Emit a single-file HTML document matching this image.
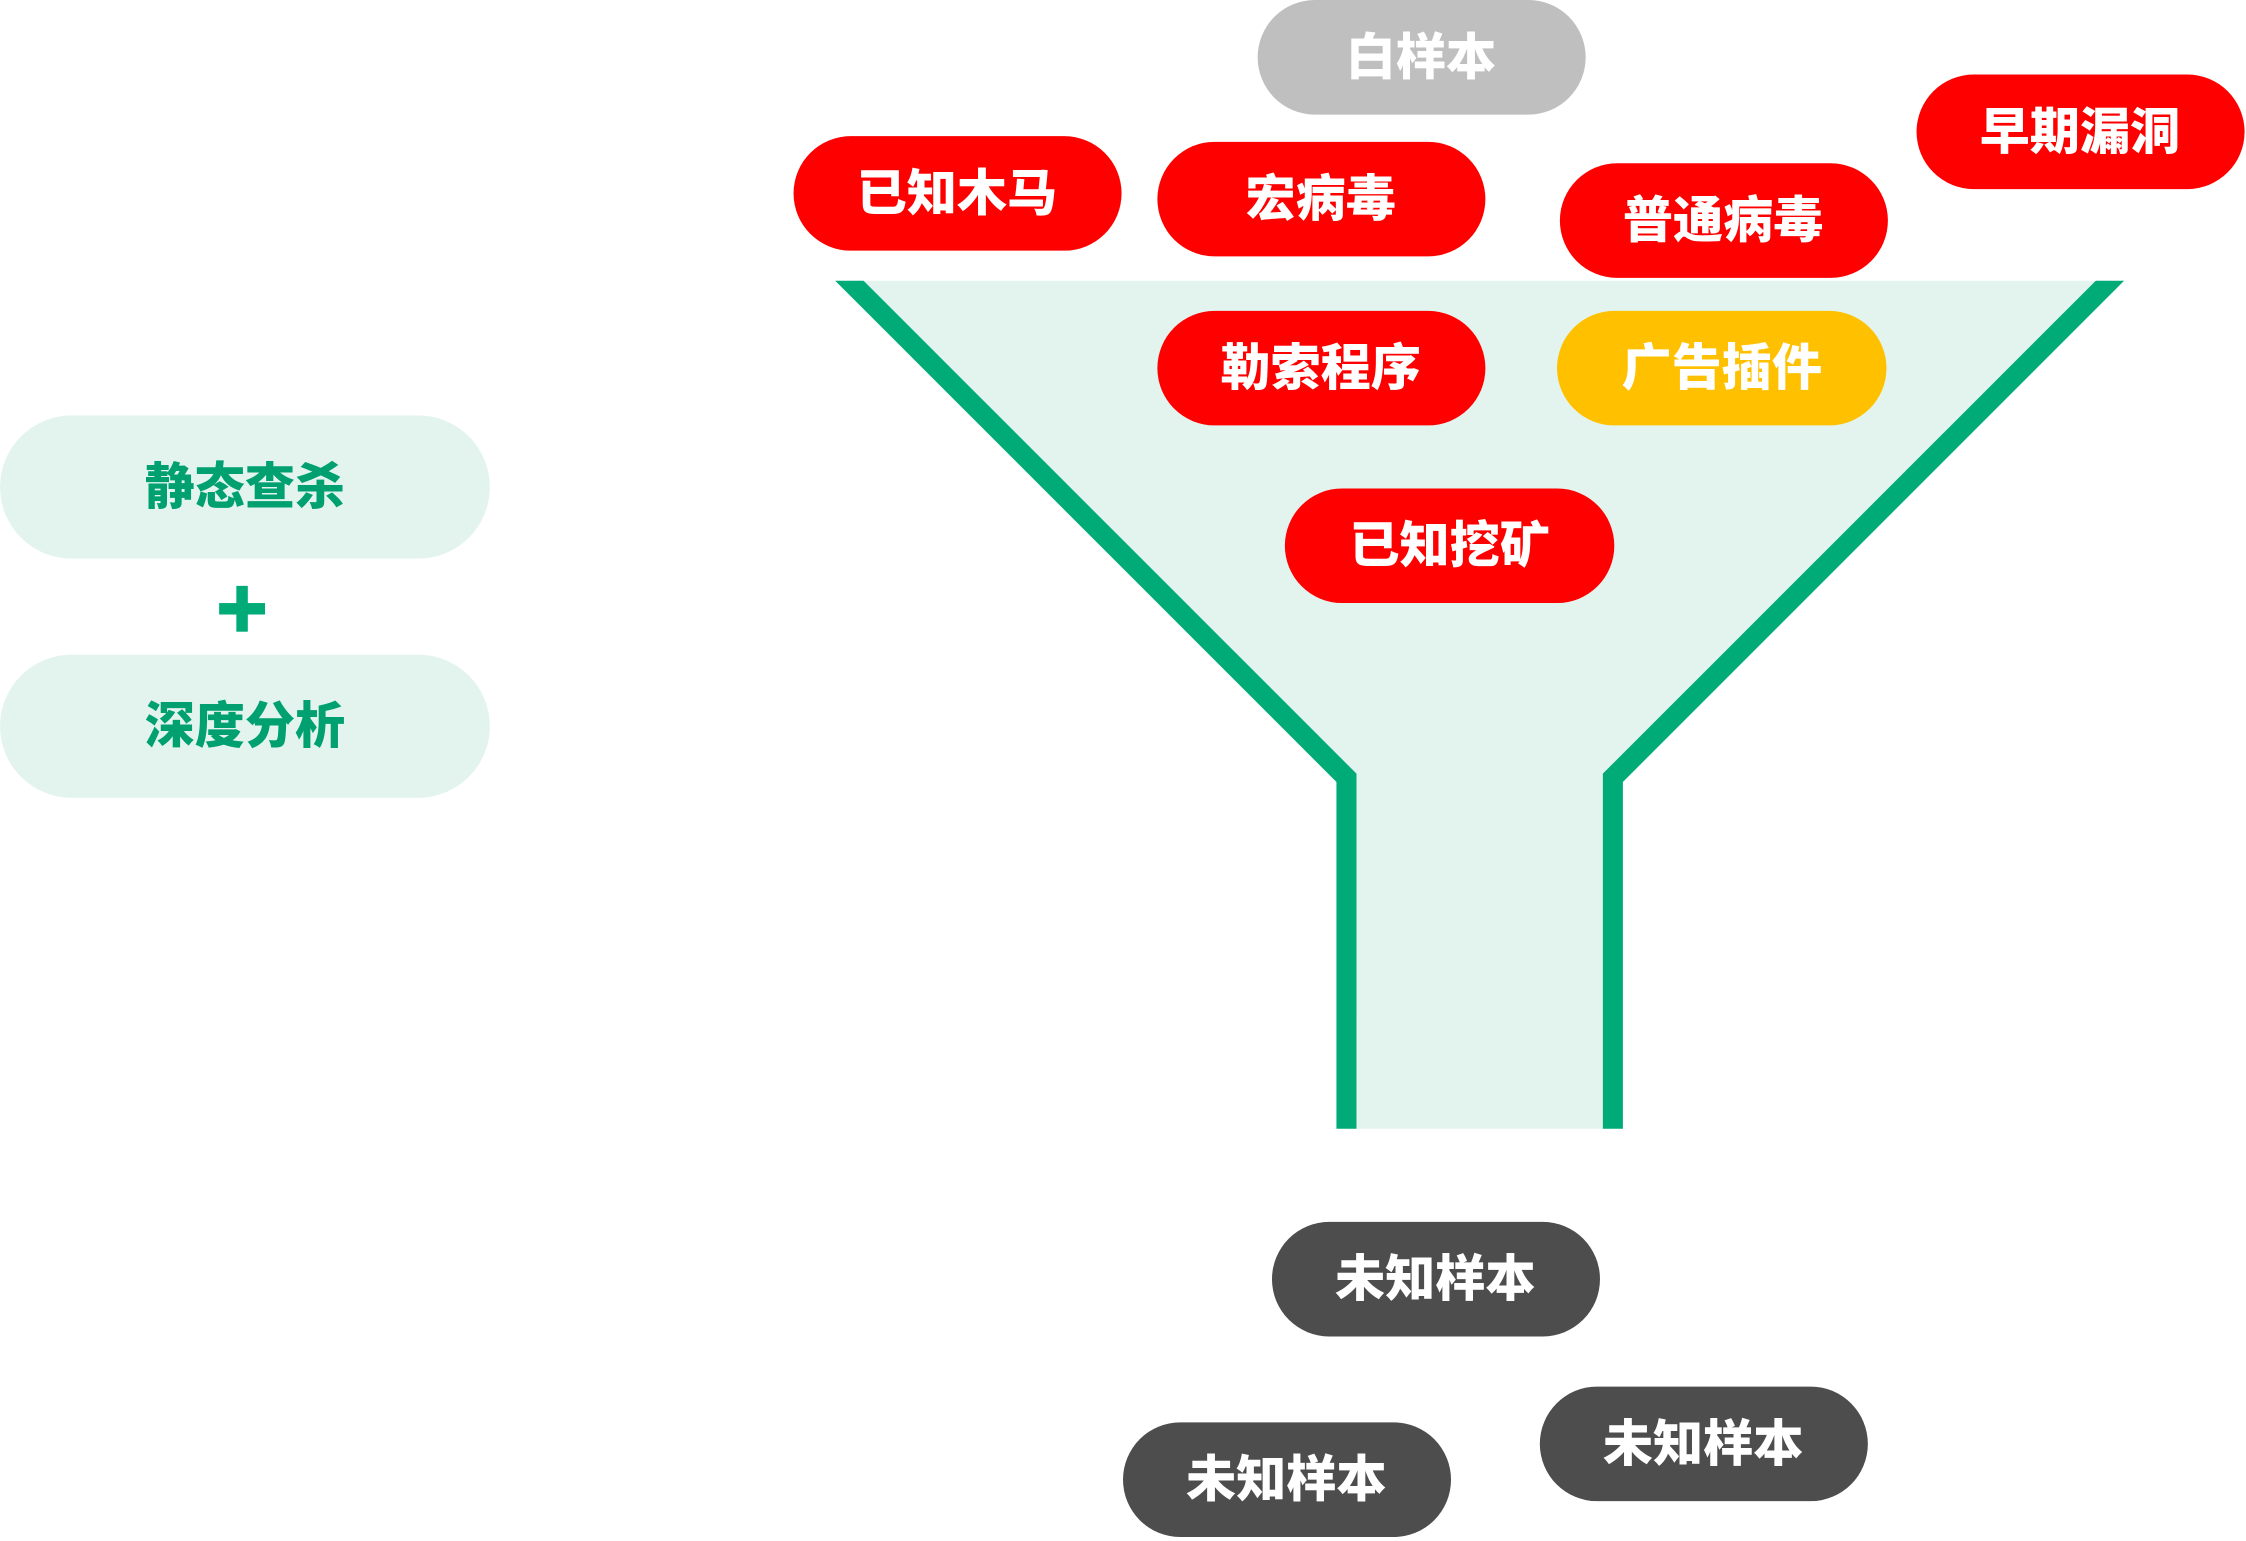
<!DOCTYPE html>
<html><head><meta charset="utf-8"><style>
html,body{margin:0;padding:0;background:#fff;}
svg{display:block;}
text{font-family:"Liberation Sans","Noto Sans CJK SC",sans-serif;font-weight:900;text-anchor:middle;dominant-baseline:central;}
</style></head><body>
<svg width="2246" height="1541" viewBox="0 0 1568 1075.8" xmlns="http://www.w3.org/2000/svg">
<defs><clipPath id="c"><rect x="0" y="196" width="1568" height="592"/></clipPath></defs>
<polygon points="593,196 1473,196 1126,543 1126,788 940,788 940,543" fill="#e3f4ee"/>
<g clip-path="url(#c)" fill="none" stroke="#00ab78" stroke-width="14" stroke-linejoin="miter">
<polyline points="583,186 940,543 940,800"/>
<polyline points="1483,186 1126,543 1126,800"/>
</g>
<g font-size="35">
<rect x="878" y="0" width="229" height="80" rx="40" fill="#bfbfbf"/><text x="992" y="40" fill="#fff">白样本</text>
<rect x="554" y="95" width="229" height="80" rx="40" fill="#ff0000"/><text x="668" y="135" fill="#fff">已知木马</text>
<rect x="808" y="99" width="229" height="80" rx="40" fill="#ff0000"/><text x="922" y="139" fill="#fff">宏病毒</text>
<rect x="1089" y="114" width="229" height="80" rx="40" fill="#ff0000"/><text x="1203" y="154" fill="#fff">普通病毒</text>
<rect x="1338" y="52" width="229" height="80" rx="40" fill="#ff0000"/><text x="1452" y="92" fill="#fff">早期漏洞</text>
<rect x="808" y="217" width="229" height="80" rx="40" fill="#ff0000"/><text x="922" y="257" fill="#fff">勒索程序</text>
<rect x="1087" y="217" width="230" height="80" rx="40" fill="#ffc000"/><text x="1202" y="257" fill="#fff">广告插件</text>
<rect x="897" y="341" width="230" height="80" rx="40" fill="#ff0000"/><text x="1012" y="381" fill="#fff">已知挖矿</text>
<rect x="888" y="853" width="229" height="80" rx="40" fill="#4d4d4d"/><text x="1002" y="893" fill="#fff">未知样本</text>
<rect x="784" y="993" width="229" height="80" rx="40" fill="#4d4d4d"/><text x="898" y="1033" fill="#fff">未知样本</text>
<rect x="1075" y="968" width="229" height="80" rx="40" fill="#4d4d4d"/><text x="1189" y="1008" fill="#fff">未知样本</text>
<rect x="0" y="290" width="342" height="100" rx="50" fill="#e3f4ee"/><text x="171" y="340" fill="#00a070">静态查杀</text>
<rect x="0" y="457" width="342" height="100" rx="50" fill="#e3f4ee"/><text x="171" y="507" fill="#00a070">深度分析</text>
</g>
<rect x="153" y="421" width="32" height="8" fill="#00ab78"/>
<rect x="165" y="409" width="8" height="32" fill="#00ab78"/>
</svg>
</body></html>
